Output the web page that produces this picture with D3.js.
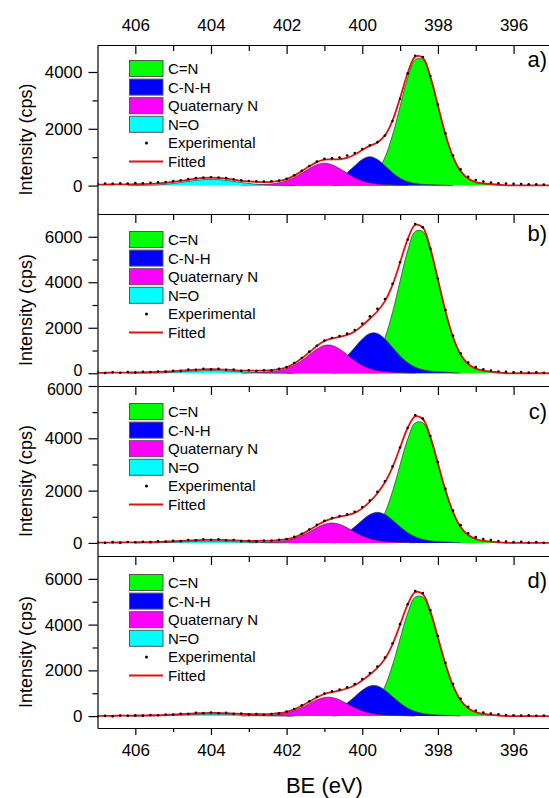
<!DOCTYPE html>
<html>
<head>
<meta charset="utf-8">
<script src="https://cdn.jsdelivr.net/npm/d3@7"></script>
<style>
  body { margin: 0; background: #fff; }
  text { font-family: "Liberation Sans", Arial, sans-serif; fill: #000; }
</style>
</head>
<body>
<div id="chart"></div>
<script>
// binding energy grid (eV), shared by every series
const be = [
  407.0,406.8,406.6,406.4,406.2,406.0,405.8,405.6,405.4,405.2,
  405.0,404.8,404.6,404.4,404.2,404.0,403.8,403.6,403.4,403.2,
  403.0,402.8,402.6,402.4,402.2,402.0,401.8,401.6,401.4,401.2,
  401.0,400.8,400.6,400.4,400.2,400.0,399.8,399.6,399.4,399.2,
  399.0,398.8,398.6,398.4,398.2,398.0,397.8,397.6,397.4,397.2,
  397.0,396.8,396.6,396.4,396.2,396.0,395.8,395.6,395.4,395.2,
  395.0
];
const beTicks = [406, 404, 402, 400, 398, 396];
const beMinor = [405, 403, 401, 399, 397];
const legendLabels = ["C=N", "C-N-H", "Quaternary N", "N=O", "Experimental", "Fitted"];

// ---- panel a) ----
const cnA = [
  0,0,0,0,0,0,0,0,0,0, 0,0,0,0,0,0,0,0,0,0, 0,0,0,0,0,0,0,0,0,0,
  0,0,23,45,66,116,237,501,997,1779,
  2786,3791,4440,4440,3791,2786,1779,997,501,237,
  116,66,45,23,0,0,0,0,0,0, 0];
const cnhA = [
  0,0,0,0,0,0,0,0,0,0, 0,0,0,0,0,0,0,0,0,0,
  0,0,0,0,0,0,11,22,29,43,
  73,137,258,452,697,923,1020,923,697,452,
  258,137,73,43,29,22,11,0,0,0,
  0,0,0,0,0,0,0,0,0,0, 0];
const quatA = [
  0,0,0,0,0,0,0,0,0,0, 0,0,0,0,0,0,0,0,0,0,
  12,26,37,59,101,173,286,435,599,735,
  790,735,599,435,286,173,101,59,37,26,
  12,0,0,0,0,0,0,0,0,0, 0,0,0,0,0,0,0,0,0,0, 0];
const noA = [
  0,0,0,0,0,3,7,14,26,46,
  75,110,149,185,211,220,211,185,149,110,
  75,46,26,14,7,3,0,0,0,0,
  0,0,0,0,0,0,0,0,0,0, 0,0,0,0,0,0,0,0,0,0, 0,0,0,0,0,0,0,0,0,0, 0];
const fitA = [
  35,37,39,41,43,48,54,63,77,99,
  130,166,206,243,270,280,271,245,209,169,
  146,130,120,129,163,230,350,509,679,828,
  912,920,927,978,1093,1254,1398,1521,1767,2290,
  3086,3955,4537,4503,3837,2823,1803,1009,512,247,
  126,76,55,33,10,10,10,10,10,10, 10];
const expA = [
  55,70,62,80,74,88,85,100,112,128,
  158,190,228,262,282,296,284,262,224,190,
  162,150,140,152,180,240,362,520,690,850,
  940,965,990,1060,1150,1290,1420,1530,1760,2270,
  3060,3950,4570,4530,3860,2850,1840,1060,570,310,
  195,140,110,85,70,62,55,48,44,40, 36];

// ---- panel b) ----
const cnB = [
  0,0,0,0,0,0,0,0,0,0, 0,0,0,0,0,0,0,0,0,0, 0,0,0,0,0,0,0,0,0,0,
  0,0,32,72,109,200,404,822,1565,2677,
  4054,5387,6234,6234,5387,4054,2677,1565,822,404,
  200,109,72,32,0,0,0,0,0,0, 0];
const cnhB = [
  0,0,0,0,0,0,0,0,0,0, 0,0,0,0,0,0,0,0,0,0,
  0,0,0,0,0,0,23,46,61,91,
  150,265,463,759,1131,1504,1750,1750,1504,1131,
  759,463,265,150,91,61,46,23,0,0,
  0,0,0,0,0,0,0,0,0,0, 0];
const quatB = [
  0,0,0,0,0,0,0,0,0,0, 0,0,0,0,0,0,0,0,0,0,
  17,35,48,72,121,209,354,562,814,1061,
  1222,1222,1061,814,562,354,209,121,72,48,
  35,17,0,0,0,0,0,0,0,0, 0,0,0,0,0,0,0,0,0,0, 0];
const noB = [
  0,0,0,0,0,2,4,8,14,25,
  41,60,81,101,115,120,115,101,81,60,
  41,25,14,8,4,2,0,0,0,0,
  0,0,0,0,0,0,0,0,0,0, 0,0,0,0,0,0,0,0,0,0, 0,0,0,0,0,0,0,0,0,0, 0];
const fitB = [
  20,22,25,28,31,36,41,48,57,71,
  90,112,136,158,173,179,174,160,140,118,
  116,117,118,135,179,264,429,659,925,1200,
  1418,1531,1598,1685,1840,2094,2397,2725,3171,3883,
  4872,5888,6517,6399,5490,4125,2731,1594,827,408,
  203,111,73,32,0,0,0,0,0,0, 0];
const expB = [
  40,10,45,20,55,30,60,50,80,70,
  110,105,160,150,195,170,200,150,160,105,
  130,100,135,130,200,270,450,670,950,1210,
  1440,1550,1640,1740,1900,2180,2500,2830,3260,3930,
  4880,5870,6560,6420,5470,4150,2780,1650,880,470,
  270,170,120,80,60,40,50,30,40,20, 30];

// ---- panel c) ----
const cnC = [
  0,0,0,0,0,0,0,0,0,0, 0,0,0,0,0,0,0,0,0,0, 0,0,0,0,0,0,0,0,0,0,
  0,0,23,53,80,147,298,606,1153,1973,
  2988,3971,4594,4594,3971,2988,1973,1153,606,298,
  147,80,53,23,0,0,0,0,0,0, 0];
const cnhC = [
  0,0,0,0,0,0,0,0,0,0, 0,0,0,0,0,0,0,0,0,0,
  0,0,0,0,0,0,0,18,34,48,
  76,131,231,393,615,868,1083,1170,1083,868,
  615,393,231,131,76,48,34,18,0,0,
  0,0,0,0,0,0,0,0,0,0, 0];
const quatC = [
  0,0,0,0,0,0,0,0,0,0, 0,0,0,0,0,0,0,0,0,0,
  0,12,25,36,57,97,168,276,420,579,
  710,763,710,579,420,276,168,97,57,36,
  25,12,0,0,0,0,0,0,0,0, 0,0,0,0,0,0,0,0,0,0, 0];
const noC = [
  0,0,0,0,0,0,2,4,8,15,
  24,35,47,59,67,70,67,59,47,35,
  24,15,8,4,2,0,0,0,0,0,
  0,0,0,0,0,0,0,0,0,0, 0,0,0,0,0,0,0,0,0,0, 0,0,0,0,0,0,0,0,0,0, 0];
const fitC = [
  10,12,14,17,20,23,28,33,40,50,
  62,76,91,105,115,120,117,109,97,84,
  73,75,80,86,104,141,211,336,495,667,
  825,932,1000,1059,1147,1321,1577,1899,2317,2899,
  3648,4394,4841,4739,4059,3046,2015,1177,611,302,
  150,82,54,23,0,0,0,0,0,0, 0];
const expC = [
  20,5,30,10,35,25,45,30,60,55,
  80,75,110,100,140,115,135,100,110,70,
  85,60,95,80,120,150,230,345,510,690,
  850,950,1030,1090,1190,1370,1620,1950,2360,2920,
  3650,4400,4880,4760,4090,3090,2070,1240,680,370,
  220,150,110,70,50,30,40,10,30,0, 20];

// ---- panel d) ----
const cnD = [
  0,0,0,0,0,0,0,0,0,0, 0,0,0,0,0,0,0,0,0,0, 0,0,0,0,0,0,0,0,0,0,
  0,0,27,60,91,167,337,686,1306,2234,
  3384,4497,5203,5203,4497,3384,2234,1306,686,337,
  167,91,60,27,0,0,0,0,0,0, 0];
const cnhD = [
  0,0,0,0,0,0,0,0,0,0, 0,0,0,0,0,0,0,0,0,0,
  0,0,0,0,0,0,17,34,46,68,
  113,199,348,570,849,1129,1314,1314,1129,849,
  570,348,199,113,68,46,34,17,0,0,
  0,0,0,0,0,0,0,0,0,0, 0];
const quatD = [
  0,0,0,0,0,0,0,0,0,0, 0,0,0,0,0,0,0,0,0,0,
  12,23,32,48,80,139,236,375,543,708,
  815,815,708,543,375,236,139,80,48,32,
  23,12,0,0,0,0,0,0,0,0, 0,0,0,0,0,0,0,0,0,0, 0];
const noD = [
  0,0,0,0,0,1,3,6,11,19,
  31,45,61,76,86,90,86,76,61,45,
  31,19,11,6,3,1,0,0,0,0,
  0,0,0,0,0,0,0,0,0,0, 0,0,0,0,0,0,0,0,0,0, 0,0,0,0,0,0,0,0,0,0, 0];
const fitD = [
  10,12,14,17,20,24,29,35,43,54,
  69,86,105,122,134,140,136,126,111,94,
  92,90,90,100,128,184,296,451,630,816,
  967,1052,1119,1207,1347,1562,1818,2106,2507,3137,
  3997,4875,5418,5330,4577,3440,2276,1329,691,341,
  170,93,61,27,0,0,0,0,0,0, 0];
const expD = [
  -30,10,-10,25,15,30,20,50,40,70,
  65,100,95,140,130,160,130,145,100,110,
  70,85,60,95,120,200,310,470,650,840,
  990,1080,1160,1260,1400,1620,1880,2170,2560,3180,
  4020,4890,5470,5380,4630,3500,2330,1400,760,410,
  240,160,110,80,50,40,20,30,10,20, 0];

// ---------------------------------------------------------------
const W = 549, H = 798;
const colors = { cn: "#00ff00", cnh: "#0000ff", quat: "#ff00ff", no: "#00ffff" };
const fitColor = "#e41010";

const panels = [
  { label: "a)", top: 45,  bottom: 214, domain: [-1000, 4950], major: [0, 2000, 4000], minor: [1000, 3000],
    cn: cnA, cnh: cnhA, quat: quatA, no: noA, fit: fitA, exp: expA, legendY: 23.5, labelY: 14 },
  { label: "b)", top: 214, bottom: 386, domain: [-560, 7000], major: [0, 2000, 4000, 6000], minor: [1000, 3000, 5000],
    cn: cnB, cnh: cnhB, quat: quatB, no: noB, fit: fitB, exp: expB, legendY: 25.5, labelY: 19 },
  { label: "c)", top: 386, bottom: 556, domain: [-500, 6000], major: [0, 2000, 4000, 6000], minor: [1000, 3000, 5000],
    cn: cnC, cnh: cnhC, quat: quatC, no: noC, fit: fitC, exp: expC, legendY: 25.5, labelY: 25 },
  { label: "d)", top: 556, bottom: 728, domain: [-520, 7000], major: [0, 2000, 4000, 6000], minor: [1000, 3000, 5000],
    cn: cnD, cnh: cnhD, quat: quatD, no: noD, fit: fitD, exp: expD, legendY: 26.5, labelY: 24 }
];

const x = d3.scaleLinear().domain([407, 395]).range([97.5, 551.4]);

const svg = d3.select("#chart").append("svg")
    .attr("width", W)
    .attr("height", H);

function styleAxis(g, size) {
    g.selectAll("path, line").attr("stroke", "#000").attr("stroke-width", 1.2);
    g.selectAll("text").attr("font-size", size).attr("font-family", "'Liberation Sans', Arial, sans-serif").attr("fill", "#000");
}

panels.forEach((p, k) => {
    const y = d3.scaleLinear().domain(p.domain).range([p.bottom, p.top]);

    svg.append("clipPath").attr("id", "clip" + k)
        .append("rect")
        .attr("x", x(407)).attr("y", p.top)
        .attr("width", x(395) - x(407)).attr("height", p.bottom - p.top);

    const plot = svg.append("g").attr("clip-path", `url(#clip${k})`);

    // fitted components, in drawing order
    ["cn", "cnh", "quat", "no"].forEach(key => {
        const vals = p[key];
        const pts = be.map((e, i) => ({ e, v: vals[i], i }))
            .filter(d => d.v > 0 || vals[d.i - 1] > 0 || vals[d.i + 1] > 0);
        const area = d3.area()
            .x(d => x(d.e))
            .y0(y(0))
            .y1(d => y(d.v))
            .curve(d3.curveCatmullRom);
        const line = d3.line()
            .x(d => x(d.e))
            .y(d => y(d.v))
            .curve(d3.curveCatmullRom);
        plot.append("path").datum(pts)
            .attr("fill", colors[key])
            .attr("d", area);
        plot.append("path").datum(pts)
            .attr("fill", "none")
            .attr("stroke", "#333")
            .attr("stroke-width", 0.7)
            .attr("d", line);
    });

    // fitted envelope
    const fitLine = d3.line()
        .x((d, i) => x(be[i]))
        .y(d => y(d))
        .curve(d3.curveCatmullRom);
    plot.append("path").datum(p.fit)
        .attr("fill", "none")
        .attr("stroke", fitColor)
        .attr("stroke-width", 1.8)
        .attr("d", fitLine);

    // experimental points
    plot.selectAll(".exp").data(p.exp).enter().append("circle")
        .attr("cx", (d, i) => x(be[i]))
        .attr("cy", d => y(d))
        .attr("r", 1.3)
        .attr("fill", "#000");

    // top edge of the panel with inward ticks
    const topAxis = svg.append("g").attr("transform", `translate(0,${p.top})`)
        .call(d3.axisTop(x).tickValues(beTicks).tickSizeInner(-9).tickSizeOuter(0)
            .tickPadding(14.5).tickFormat(k === 0 ? d3.format("d") : ""));
    styleAxis(topAxis, 17);
    const topMinor = svg.append("g").attr("transform", `translate(0,${p.top})`)
        .call(d3.axisTop(x).tickValues(beMinor).tickSizeInner(-6).tickSizeOuter(0).tickFormat(""));
    styleAxis(topMinor, 17);
    topMinor.select(".domain").remove();

    // left axis
    const leftAxis = svg.append("g").attr("transform", `translate(${x(407)},0)`)
        .call(d3.axisLeft(y).tickValues(p.major).tickSize(9).tickSizeOuter(0).tickPadding(6)
            .tickFormat(d3.format("d")));
    styleAxis(leftAxis, 17);
    // labels at the shared edge of b) and c) sit very close; nudge them apart a little
    if (k === 1) leftAxis.selectAll(".tick").filter(d => d === 0).select("text")
        .attr("y", -3).attr("font-size", 16);
    if (k === 2) leftAxis.selectAll(".tick").filter(d => d === 6000).select("text")
        .attr("y", 3).attr("font-size", 16);
    const leftMinor = svg.append("g").attr("transform", `translate(${x(407)},0)`)
        .call(d3.axisLeft(y).tickValues(p.minor).tickSize(5).tickSizeOuter(0).tickFormat(""));
    styleAxis(leftMinor, 17);
    leftMinor.select(".domain").remove();

    // y label
    svg.append("text")
        .attr("transform", `translate(26,${(p.top + p.bottom) / 2 + 10}) rotate(-90)`)
        .attr("text-anchor", "middle")
        .attr("dominant-baseline", "central")
        .attr("font-size", 18)
        .text("Intensity (cps)");

    // panel label
    svg.append("text")
        .attr("x", 547).attr("y", p.top + p.labelY)
        .attr("text-anchor", "end")
        .attr("dominant-baseline", "central")
        .attr("font-size", 22)
        .text(p.label);

    // legend
    const lg = svg.append("g");
    const rowH = 18.6;
    legendLabels.forEach((lab, j) => {
        const cy = p.top + p.legendY + j * rowH;
        if (j < 4) {
            lg.append("rect")
                .attr("x", 129.5).attr("y", cy - 8)
                .attr("width", 33.5).attr("height", 16)
                .attr("fill", colors[["cn", "cnh", "quat", "no"][j]])
                .attr("stroke", "#555").attr("stroke-width", 1);
        } else if (j === 4) {
            lg.append("circle").attr("cx", 146.5).attr("cy", cy).attr("r", 1.5).attr("fill", "#000");
        } else {
            lg.append("line")
                .attr("x1", 129).attr("x2", 163).attr("y1", cy).attr("y2", cy)
                .attr("stroke", fitColor).attr("stroke-width", 1.8);
        }
        lg.append("text")
            .attr("x", 168).attr("y", cy)
            .attr("dominant-baseline", "central")
            .attr("font-size", 15)
            .text(lab);
    });
});

// bottom axis
const bottomAxis = svg.append("g").attr("transform", "translate(0,728)")
    .call(d3.axisBottom(x).tickValues(beTicks).tickSize(7).tickSizeOuter(0).tickPadding(9).tickFormat(d3.format("d")));
styleAxis(bottomAxis, 17);
const bottomMinor = svg.append("g").attr("transform", "translate(0,728)")
    .call(d3.axisBottom(x).tickValues(beMinor).tickSize(4).tickSizeOuter(0).tickFormat(""));
styleAxis(bottomMinor, 17);
bottomMinor.select(".domain").remove();

svg.append("text")
    .attr("x", (x(407) + x(395)) / 2).attr("y", 785)
    .attr("text-anchor", "middle")
    .attr("dominant-baseline", "central")
    .attr("font-size", 22)
    .text("BE (eV)");
</script>
</body>
</html>
